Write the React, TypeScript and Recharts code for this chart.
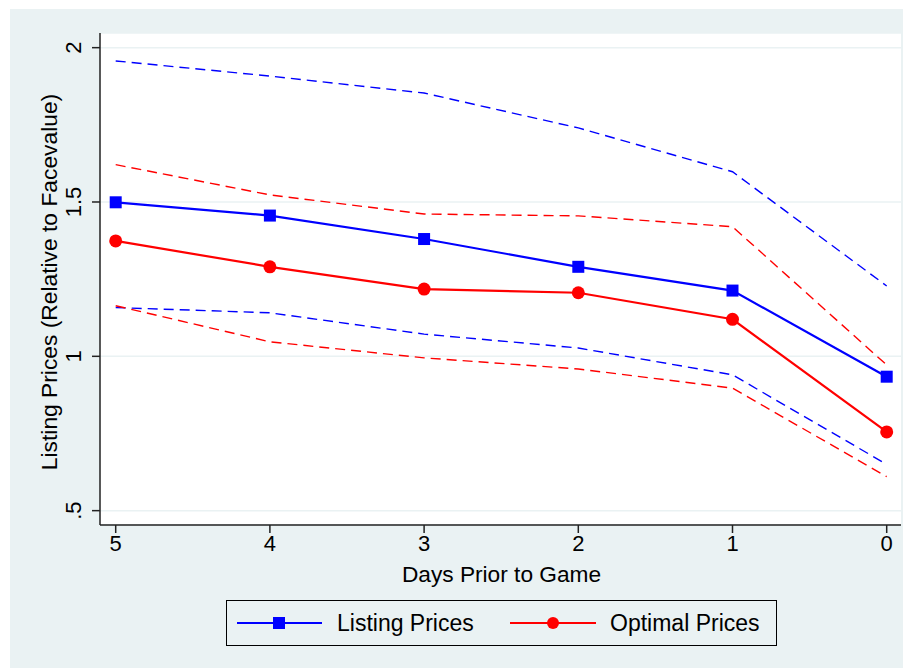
import React from 'react';
import { LineChart, Line, XAxis, YAxis, CartesianGrid, Legend, Label } from 'recharts';

const days = [5, 4, 3, 2, 1, 0];
const listing = [1.499, 1.456, 1.38, 1.29, 1.213, 0.934];
const optimal = [1.374, 1.29, 1.218, 1.206, 1.12, 0.755];
const listingUpper = [1.957, 1.908, 1.853, 1.74, 1.598, 1.228];
const listingLower = [1.158, 1.141, 1.072, 1.027, 0.94, 0.65];
const optimalUpper = [1.621, 1.523, 1.461, 1.455, 1.42, 0.972];
const optimalLower = [1.164, 1.047, 0.995, 0.959, 0.897, 0.61];
const yTicks = [0.5, 1, 1.5, 2];
const xTitle = 'Days Prior to Game';
const yTitle = 'Listing Prices (Relative to Facevalue)';
const seriesNames = ['Listing Prices', 'Optimal Prices'];

const data = days.map((d, i) => ({
  d: String(d),
  listing: listing[i],
  optimal: optimal[i],
  lu: listingUpper[i],
  ll: listingLower[i],
  ou: optimalUpper[i],
  ol: optimalLower[i],
}));

const FONT = '"Liberation Sans", Arial, Helvetica, sans-serif';
const BG = '#EAF2F3';
const BLUE = '#0000FF';
const RED = '#FF0000';
const AXIS = '#222222';

const fmtY = (v: number) => (v === 0.5 ? '.5' : String(v));

const YTick = (props: any) => {
  const { x, y, payload } = props;
  const bx = x - 9;
  return (
    <text
      x={bx}
      y={y}
      transform={`rotate(-90, ${bx}, ${y})`}
      textAnchor="middle"
      fontFamily={FONT}
      fontSize={22}
      fill="#000"
    >
      {fmtY(payload.value)}
    </text>
  );
};

const XTick = (props: any) => {
  const { x, y, payload } = props;
  return (
    <text x={x} y={y + 16} textAnchor="middle" fontFamily={FONT} fontSize={22} fill="#000">
      {payload.value}
    </text>
  );
};

const SquareDot = (props: any) => {
  const { cx, cy } = props;
  if (cx == null || cy == null) return null;
  return <rect x={cx - 6} y={cy - 6} width={12} height={12} fill={BLUE} />;
};

const CircleDot = (props: any) => {
  const { cx, cy } = props;
  if (cx == null || cy == null) return null;
  return <circle cx={cx} cy={cy} r={6.5} fill={RED} />;
};

const LegendBox = () => (
  <div style={{ marginLeft: 216, width: 551, height: 46 }}>
    <svg width={551} height={46} style={{ display: 'block' }}>
      <rect x={0.5} y={0.5} width={550} height={45} fill={BG} stroke="#000" strokeWidth={1} />
      <line x1={11} y1={23} x2={96} y2={23} stroke={BLUE} strokeWidth={2} />
      <rect x={47} y={17} width={12} height={12} fill={BLUE} />
      <text x={111} y={31} fontFamily={FONT} fontSize={23} fill="#000">{seriesNames[0]}</text>
      <line x1={284} y1={23} x2={370} y2={23} stroke={RED} strokeWidth={2} />
      <circle cx={327} cy={23} r={6} fill={RED} />
      <text x={384} y={31} fontFamily={FONT} fontSize={23} fill="#000">{seriesNames[1]}</text>
    </svg>
  </div>
);

const YTitle = (props: any) => {
  const vb = props.viewBox || { x: 0, y: 24, width: 90, height: 492 };
  const bx = vb.x + 47;
  const cy = vb.y + vb.height / 2 + 3;
  return (
    <text
      x={bx}
      y={cy}
      transform={`rotate(-90, ${bx}, ${cy})`}
      textAnchor="middle"
      fontFamily={FONT}
      fontSize={22.8}
      fill="#000"
    >
      {yTitle}
    </text>
  );
};

const XTitle = (props: any) => {
  const vb = props.viewBox || { x: 90, y: 516, width: 801, height: 75 };
  return (
    <text
      x={vb.x + vb.width / 2 + 1}
      y={vb.y + 57}
      textAnchor="middle"
      fontFamily={FONT}
      fontSize={22.7}
      fill="#000"
    >
      {xTitle}
    </text>
  );
};

export default function App() {
  return (
    <div style={{ position: 'relative', width: 903, height: 660, background: '#fff' }}>
      <div style={{ position: 'absolute', left: 2, top: 1, width: 901, height: 659, background: BG }}>
        <LineChart
          width={901}
          height={659}
          data={data}
          margin={{ top: 24, right: 10, left: 0, bottom: 22 }}
        >
          <CartesianGrid vertical={false} horizontal={true} stroke={BG} strokeWidth={1.5} fill="#FFFFFF" fillOpacity={1} />
          <XAxis
            dataKey="d"
            type="category"
            padding={{ left: 15.7, right: 14.3 }}
            height={75}
            tickSize={8}
            tickMargin={2}
            axisLine={{ stroke: AXIS, strokeWidth: 1.5 }}
            tickLine={{ stroke: AXIS, strokeWidth: 1.5 }}
            tick={<XTick />}
            interval={0}
          >
            <Label content={<XTitle />} />
          </XAxis>
          <YAxis
            type="number"
            domain={[0.4535, 2.0475]}
            allowDataOverflow
            ticks={yTicks}
            width={90}
            tickSize={8}
            tickMargin={2}
            axisLine={{ stroke: AXIS, strokeWidth: 1.5 }}
            tickLine={{ stroke: AXIS, strokeWidth: 1.5 }}
            tick={<YTick />}
            interval={0}
          >
            <Label content={<YTitle />} />
          </YAxis>
          <Legend verticalAlign="bottom" content={() => <LegendBox />} />
          <Line dataKey="lu" stroke={BLUE} strokeWidth={1.4} strokeDasharray="10 6" dot={false} activeDot={false} isAnimationActive={false} legendType="none" />
          <Line dataKey="ll" stroke={BLUE} strokeWidth={1.4} strokeDasharray="10 6" dot={false} activeDot={false} isAnimationActive={false} legendType="none" />
          <Line dataKey="ou" stroke={RED} strokeWidth={1.4} strokeDasharray="10 6" dot={false} activeDot={false} isAnimationActive={false} legendType="none" />
          <Line dataKey="ol" stroke={RED} strokeWidth={1.4} strokeDasharray="10 6" dot={false} activeDot={false} isAnimationActive={false} legendType="none" />
          <Line dataKey="listing" stroke={BLUE} strokeWidth={2.2} dot={<SquareDot />} activeDot={false} isAnimationActive={false} />
          <Line dataKey="optimal" stroke={RED} strokeWidth={2.2} dot={<CircleDot />} activeDot={false} isAnimationActive={false} />
        </LineChart>
      </div>
    </div>
  );
}
